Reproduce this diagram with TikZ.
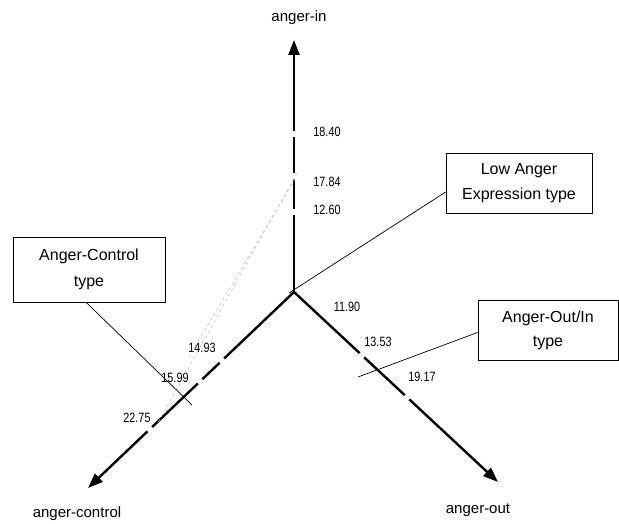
\documentclass[tikz,border=0pt]{standalone}
\usepackage{fontspec}
\setmainfont{Liberation Sans}
\newfontfamily\numfont[FakeStretch=0.8]{Liberation Sans}
\usetikzlibrary{arrows.meta, calc}

\begin{document}
\begin{tikzpicture}[x=1pt, y=-1pt,
  ax/.style={line width=2.4pt},
  tip/.style={-{Triangle[length=15pt, width=11pt]}},
  lbl/.style={font=\fontsize{15}{17}\selectfont},
  val/.style={font=\numfont\fontsize{13.5}{15}\selectfont},
  typebox/.style={draw, line width=0.8pt, align=center, inner sep=0pt},
  lead/.style={line width=0.7pt},
  prof/.style={gray!55, dash pattern=on 3pt off 3pt, line width=0.5pt}
]
\useasboundingbox (0,0) rectangle (619,524);

% axes
\coordinate (O) at (294,292);
\coordinate (inT) at (294,40);
\coordinate (ctrlT) at (88,488);
\coordinate (outT) at (498,482);

\foreach \a/\b in {0/0.305, 0.329/0.448, 0.472/0.615}
  \draw[ax] ($(O)!\a!(inT)$) -- ($(O)!\b!(inT)$);
\draw[ax, tip] ($(O)!0.639!(inT)$) -- (inT);

\foreach \a/\b in {0/0.339, 0.361/0.445, 0.467/0.689}
  \draw[ax] ($(O)!\a!(ctrlT)$) -- ($(O)!\b!(ctrlT)$);
\draw[ax, tip] ($(O)!0.711!(ctrlT)$) -- (ctrlT);

\foreach \a/\b in {0/0.322, 0.344/0.543}
  \draw[ax] ($(O)!\a!(outT)$) -- ($(O)!\b!(outT)$);
\draw[ax, tip] ($(O)!0.565!(outT)$) -- (outT);

\node[lbl] (inL) at (299,18) {anger-in};
\node[lbl] (ctrlL) at (77,514) {anger-control};
\node[lbl] (outL) at (478,510) {anger-out};

% scores
\node[val] (v1840) at (327,132) {18.40};
\node[val] (v1784) at (327,182) {17.84};
\node[val] (v1260) at (327,210) {12.60};
\node[val] (v1190) at (347,307) {11.90};
\node[val] (v1353) at (378,342) {13.53};
\node[val] (v1917) at (422,377) {19.17};
\node[val] (v1493) at (202,348) {14.93};
\node[val] (v1599) at (175,378) {15.99};
\node[val] (v2275) at (137,418) {22.75};

% faint profile lines
\coordinate (p1) at (297,173);
\coordinate (p2) at (155,428);
\coordinate (p3) at (295,179);
\coordinate (p4) at (188,358);
\draw[prof] (p1) -- (p2);
\draw[prof] (p3) -- (p4);

% type boxes
\node[typebox, minimum width=146pt, minimum height=60pt,
  font=\fontsize{16}{25}\selectfont] (low) at (519,183) {Low Anger\\Expression type};
\node[typebox, minimum width=152pt, minimum height=65pt,
  font=\fontsize{16}{26}\selectfont] (ctrl) at (89,269.5) {Anger-Control\\type};
\node[typebox, minimum width=140pt, minimum height=60pt,
  font=\fontsize{16}{24}\selectfont] (outin) at (548,330) {Anger-Out/In\\type};

\coordinate (lowE) at (289,293);
\coordinate (ctrlE) at (192,405);
\coordinate (outinE) at (358,377);
\draw[lead] (low.187) -- (lowE);
\draw[lead] (ctrl.265) -- (ctrlE);
\draw[lead] (outin.182) -- (outinE);
\end{tikzpicture}
\end{document}
